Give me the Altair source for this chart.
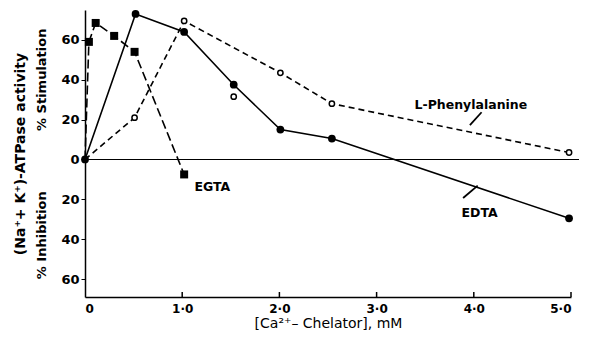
import altair as alt
import pandas as pd

# EGTA (filled squares, dashed)
egta_x = [0.0, 0.04, 0.11, 0.30, 0.51, 1.02]
egta_y = [0.0, 59.0, 68.5, 62.0, 54.0, -7.5]
# EDTA (filled circles, solid)
edta_x = [0.0, 0.52, 1.02, 1.53, 2.01, 2.54, 4.98]
edta_y = [0.0, 73.0, 64.0, 37.5, 15.0, 10.5, -29.5]
# L-Phenylalanine (open circles, dashed) - the 1.5 mM point lies off the line
phe_x = [0.0, 0.51, 1.02, 1.53, 2.01, 2.54, 4.98]
phe_y = [0.0, 21.0, 69.5, 31.5, 43.5, 28.0, 3.5]
phe_on_line = [True, True, True, False, True, True, True]

# annotations
label_text = ["L-Phenylalanine", "EDTA", "EGTA"]
label_x = [3.97, 4.06, 1.31]
label_y = [27.5, -27.0, -13.8]
leader_x = [4.08, 4.04]
leader_y = [23.7, -13.1]
leader_x2 = [3.96, 3.89]
leader_y2 = [17.2, -19.3]
side_text = ["% Stimulation", "% Inhibition"]
side_y = [40, -38]
x_ticks = [1, 2, 3, 4, 5]

FONT = "DejaVu Sans"

xs = alt.Scale(domain=[0, 5], nice=False, zero=False)
ys = alt.Scale(domain=[-69, 75], nice=False, zero=False)

egta = pd.DataFrame({"x": egta_x, "y": egta_y})
edta = pd.DataFrame({"x": edta_x, "y": edta_y})
phe = pd.DataFrame({"x": phe_x, "y": phe_y, "on": phe_on_line})
labels = pd.DataFrame({"t": label_text, "x": label_x, "y": label_y})
leaders = pd.DataFrame({"x": leader_x, "y": leader_y, "x2": leader_x2, "y2": leader_y2})
sides = pd.DataFrame({"t": side_text, "y": side_y})
ticks = pd.DataFrame({"x": x_ticks})

X = alt.X("x:Q", scale=xs, title="[Ca²⁺– Chelator], mM",
          axis=alt.Axis(values=[0, 1, 2, 3, 4, 5],
                        labelExpr="datum.value == 0 ? '0' : replace(format(datum.value, '.1f'), '.', '·')",
                        grid=False, ticks=False, domainWidth=1.5, labelPadding=6,
                        titlePadding=2, titleFontWeight="normal", titleFontSize=14))
Y = alt.Y("y:Q", scale=ys, title="(Na⁺+ K⁺)-ATPase  activity",
          axis=alt.Axis(values=[-60, -50, -40, -30, -20, -10, 0, 10, 20, 30, 40, 50, 60],
                        labelExpr="datum.value % 20 == 0 ? '' + abs(datum.value) : ''",
                        grid=False, tickSize=4, labelPadding=2, domainWidth=1.5,
                        titlePadding=33, titleFontSize=14, labelFontSize=13))

base_line = alt.Chart(edta).mark_line(color="black", strokeWidth=1.6).encode(x=X, y=Y)
edta_pts = alt.Chart(edta).mark_point(filled=True, color="black", size=60, shape="circle", opacity=1).encode(x="x:Q", y="y:Q")

egta_line = alt.Chart(egta).mark_line(color="black", strokeWidth=1.6, strokeDash=[9, 4]).encode(x="x:Q", y="y:Q")
egta_pts = alt.Chart(egta[egta.x > 0]).mark_point(filled=True, color="black", size=64, shape="square", opacity=1).encode(x="x:Q", y="y:Q")

phe_line = alt.Chart(phe[phe.on]).mark_line(color="black", strokeWidth=1.6, strokeDash=[6, 4]).encode(x="x:Q", y="y:Q")
phe_pts = alt.Chart(phe[phe.x > 0]).mark_point(filled=True, fill="white", stroke="black", strokeWidth=1.5, size=28, shape="circle", opacity=1).encode(x="x:Q", y="y:Q")

zero = alt.Chart(pd.DataFrame({"y": [0]})).mark_rule(color="black", strokeWidth=1.2).encode(
    y="y:Q", x=alt.value(0), x2=alt.value(494))

tick_rules = alt.Chart(ticks).mark_rule(color="black", strokeWidth=1.5).encode(
    x="x:Q", y=alt.datum(-69), y2=alt.datum(-66.5))

text = alt.Chart(labels).mark_text(font=FONT, fontSize=12.5, fontWeight="bold", color="black").encode(
    x="x:Q", y="y:Q", text="t:N")
lead = alt.Chart(leaders).mark_rule(color="black", strokeWidth=1.8).encode(
    x="x:Q", y="y:Q", x2="x2:Q", y2="y2:Q")
side = alt.Chart(sides).mark_text(font=FONT, fontSize=13, fontWeight="bold", color="black", angle=270).encode(
    x=alt.value(-43), y="y:Q", text="t:N")

chart = alt.layer(zero, tick_rules, base_line, egta_line, phe_line, edta_pts, egta_pts, phe_pts,
                  lead, text, side).properties(
    width=486, height=287,
    autosize=alt.AutoSizeParams(type="none"),
    padding={"left": 77, "top": 2, "right": 11, "bottom": 38},
).configure_view(stroke=None).configure_axis(
    domainColor="black", tickColor="black", labelColor="black", titleColor="black",
    labelFont=FONT, titleFont=FONT, labelFontSize=12, titleFontSize=13,
    labelFontWeight="bold", titleFontWeight="bold",
).configure_axisY(labelAngle=0)

chart.save("out.html", embed_options={"renderer": "svg", "actions": False})
